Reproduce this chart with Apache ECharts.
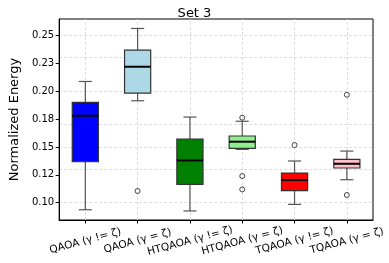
<!DOCTYPE html>
<html>
<head>
<meta charset="utf-8">
<script src="https://cdn.jsdelivr.net/npm/echarts@6/dist/echarts.min.js"></script>
<style>html,body{margin:0;padding:0;background:#fff;}#c{width:389px;height:263px;}</style>
</head>
<body>
<div id="c"></div>
<script>
const categories = ['QAOA (γ != ζ)', 'QAOA (γ = ζ)', 'HTQAOA (γ != ζ)', 'HTQAOA (γ = ζ)', 'TQAOA (γ != ζ)', 'TQAOA (γ = ζ)'];
const boxColors = ['#0000ff', '#add8e6', '#008000', '#90ee90', '#ff0000', '#ffc0cb'];
// [min, q1, median, q3, max]
const boxStats = [
  [0.0937, 0.1367, 0.1780, 0.1899, 0.2087],
  [0.1914, 0.1983, 0.2219, 0.2368, 0.2562],
  [0.0926, 0.1164, 0.1379, 0.1571, 0.1768],
  [0.1478, 0.1487, 0.1547, 0.1598, 0.1730],
  [0.0985, 0.1108, 0.1203, 0.1266, 0.1374],
  [0.1206, 0.1311, 0.1349, 0.1388, 0.1463]
];
// [category index, value]
const outliers = [
  [1, 0.1105],
  [3, 0.1762], [3, 0.1239], [3, 0.1119],
  [4, 0.1517],
  [5, 0.1968], [5, 0.1069]
];
const yTickValues = [0.100, 0.125, 0.150, 0.175, 0.200, 0.225, 0.250];
const yTickLabels = ['0.10', '0.12', '0.15', '0.18', '0.20', '0.23', '0.25'];
const yMin = 0.0845, yMax = 0.2647;

const chart = echarts.init(document.getElementById('c'));
const boxData = boxStats.map((s, i) => [i].concat(s));
const gridLines = yTickValues.map(v => ({ yAxis: v })).concat(categories.map(c => ({ xAxis: c })));

chart.setOption({
  animation: false,
  textStyle: { fontFamily: 'DejaVu Sans' },
  title: {
    text: 'Set 3', left: 'center', top: 2,
    textStyle: { fontSize: 13, fontWeight: 'normal', color: '#000', fontFamily: 'DejaVu Sans' }
  },
  grid: { left: 48, right: 16, top: 19, bottom: 43, show: true, borderColor: '#000', borderWidth: 1 },
  xAxis: {
    type: 'category', data: categories, boundaryGap: true,
    axisLine: { show: true, lineStyle: { color: '#000' } },
    axisTick: { show: true, alignWithLabel: true, length: 3.5, lineStyle: { color: '#000' } },
    splitLine: { show: false },
    axisLabel: { rotate: 15, align: 'center', verticalAlign: 'middle', margin: 21, fontSize: 10.5, color: '#000', interval: 0, fontFamily: 'DejaVu Sans' }
  },
  yAxis: {
    type: 'value', min: yMin, max: yMax,
    name: 'Normalized Energy', nameLocation: 'middle', nameGap: 29,
    nameTextStyle: { fontSize: 13, color: '#000', fontFamily: 'DejaVu Sans' },
    axisLine: { show: true, lineStyle: { color: '#000' } },
    axisTick: { show: true, length: 3.5, customValues: yTickValues, lineStyle: { color: '#000' } },
    splitLine: { show: false },
    axisLabel: {
      customValues: yTickValues, fontSize: 10, color: '#000', margin: 5, fontFamily: 'DejaVu Sans',
      formatter: function (v) {
        let best = 0;
        yTickValues.forEach((t, i) => { if (Math.abs(t - v) < Math.abs(yTickValues[best] - v)) best = i; });
        return yTickLabels[best];
      }
    }
  },
  series: [
    {
      type: 'line', data: [], silent: true,
      markLine: {
        silent: true, symbol: 'none', z: 0, animation: false,
        label: { show: false },
        lineStyle: { color: '#d4d4d4', type: [3, 2], width: 0.8 },
        data: gridLines
      }
    },
    {
      type: 'custom', z: 3,
      data: boxData,
      encode: { x: 0, y: [1, 2, 3, 4, 5] },
      renderItem: function (params, api) {
        const idx = api.value(0);
        const band = api.size([1, 0])[0];
        const hw = band * 0.25, cw = band * 0.125;
        const pMin = api.coord([idx, api.value(1)]);
        const pQ1 = api.coord([idx, api.value(2)]);
        const pMed = api.coord([idx, api.value(3)]);
        const pQ3 = api.coord([idx, api.value(4)]);
        const pMax = api.coord([idx, api.value(5)]);
        const x = pMed[0];
        const wStyle = { stroke: '#555', lineWidth: 1.2 };
        return {
          type: 'group',
          children: [
            { type: 'line', shape: { x1: x, y1: pMin[1], x2: x, y2: pQ1[1] }, style: wStyle },
            { type: 'line', shape: { x1: x, y1: pQ3[1], x2: x, y2: pMax[1] }, style: wStyle },
            { type: 'line', shape: { x1: x - cw, y1: pMin[1], x2: x + cw, y2: pMin[1] }, style: wStyle },
            { type: 'line', shape: { x1: x - cw, y1: pMax[1], x2: x + cw, y2: pMax[1] }, style: wStyle },
            { type: 'rect', shape: { x: x - hw, y: pQ3[1], width: hw * 2, height: pQ1[1] - pQ3[1] },
              style: { fill: boxColors[idx], stroke: '#333', lineWidth: 1.2 } },
            { type: 'line', shape: { x1: x - hw, y1: pMed[1], x2: x + hw, y2: pMed[1] },
              style: { stroke: '#000', lineWidth: 2 } }
          ]
        };
      }
    },
    {
      type: 'scatter', z: 4,
      data: outliers,
      symbol: 'circle', symbolSize: 5,
      itemStyle: { color: 'rgba(255,255,255,0)', borderColor: '#000', borderWidth: 0.9 }
    }
  ]
});
</script>
</body>
</html>
